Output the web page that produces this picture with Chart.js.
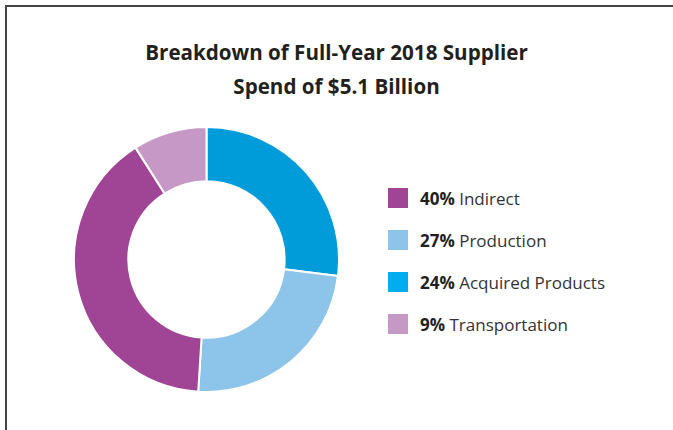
<!DOCTYPE html>
<html>
<head>
<meta charset="utf-8">
<title>Supplier Spend 2018</title>
<script src="https://cdn.jsdelivr.net/npm/chart.js@4.4.1/dist/chart.umd.min.js"></script>
<style>
    html, body {
        margin: 0;
        padding: 0;
        background: #ffffff;
    }
    #frame {
        position: relative;
        width: 673px;
        height: 430px;
        overflow: hidden;
        font-family: "Open Sans", "Noto Sans", sans-serif;
    }
    #frame-line {
        position: absolute;
        left: 5px;
        top: 5px;
        right: -10px;
        bottom: -10px;
        border-left: 2px solid #444444;
        border-top: 2px solid #444444;
    }
    #chart-title {
        position: absolute;
        left: 0;
        top: 35px;
        width: 673px;
        text-align: center;
        font-size: 20.6px;
        font-weight: 700;
        line-height: 34px;
        color: #231f20;
    }
    #chart-box {
        position: absolute;
        left: 73px;
        top: 126px;
        width: 267px;
        height: 267px;
    }
    #legend {
        position: absolute;
        left: 388px;
        top: 187px;
        margin: 0;
        padding: 0;
        list-style: none;
    }
    #legend li {
        height: 42px;
        font-size: 17px;
        color: #333333;
        white-space: nowrap;
    }
    #legend .swatch {
        display: inline-block;
        width: 20px;
        height: 20px;
        margin-right: 12px;
        vertical-align: -3px;
    }
    #legend b {
        color: #231f20;
    }
</style>
</head>
<body>
<div id="frame">
    <div id="frame-line"></div>
    <div id="chart-title">Breakdown of Full-Year 2018 Supplier<br>Spend of $5.1 Billion</div>
    <div id="chart-box"><canvas id="spend-chart"></canvas></div>
    <ul id="legend"></ul>
</div>
<script>
// Slices as drawn, clockwise from 12 o'clock
var sliceLabels = ['Acquired Products', 'Production', 'Indirect', 'Transportation'];
var sliceValues = [27, 24, 40, 9];
var sliceColors = ['#009cda', '#8dc4ea', '#a04496', '#c598c5'];

// Legend entries as printed
var legendLabels = ['Indirect', 'Production', 'Acquired Products', 'Transportation'];
var legendShares = [40, 27, 24, 9];
var legendColors = ['#a04496', '#8dc4ea', '#00aeef', '#c598c5'];

(function() {
    'use strict';

    initSpendChart();
    buildLegend();

    /**
     * Draw the doughnut
     */
    function initSpendChart() {
        var canvas = document.getElementById('spend-chart');

        if (!canvas || typeof Chart === 'undefined') {
            return;
        }

        new Chart(canvas.getContext('2d'), {
            type: 'doughnut',
            data: {
                labels: sliceLabels,
                datasets: [{
                    data: sliceValues,
                    backgroundColor: sliceColors,
                    borderColor: '#ffffff',
                    borderWidth: 2
                }]
            },
            options: {
                responsive: true,
                maintainAspectRatio: false,
                animation: false,
                cutout: '59%',
                layout: {
                    padding: 0
                },
                plugins: {
                    legend: { display: false },
                    title: { display: false },
                    tooltip: { enabled: false }
                }
            }
        });
    }

    /**
     * Build the legend list from the legend arrays
     */
    function buildLegend() {
        var list = document.getElementById('legend');
        var html = '';

        for (var i = 0; i < legendLabels.length; i++) {
            html += '<li><span class="swatch" style="background:' + legendColors[i] + '"></span>' +
                '<b>' + legendShares[i] + '%</b> ' + legendLabels[i] + '</li>';
        }

        list.innerHTML = html;
    }

})();
</script>
</body>
</html>
